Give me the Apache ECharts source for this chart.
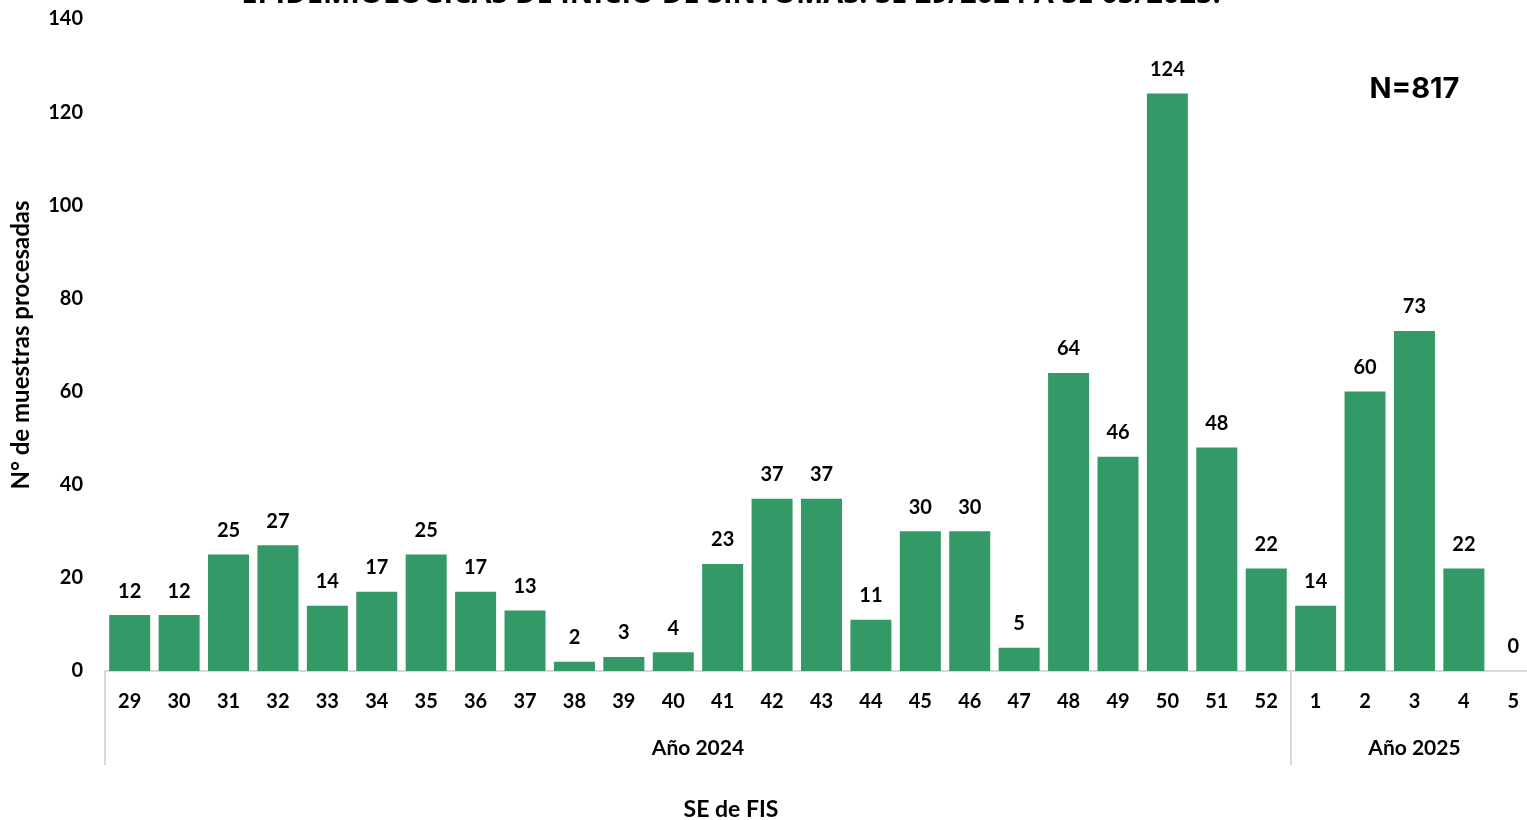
<!DOCTYPE html>
<html><head><meta charset="utf-8">
<script src="https://cdn.jsdelivr.net/npm/echarts@6/dist/echarts.min.js"></script>
<style>html,body{margin:0;padding:0;background:#fff}#c{width:1527px;height:820px}</style>
</head><body><div id="c"></div>
<script>
const weeks = ['29','30','31','32','33','34','35','36','37','38','39','40','41','42','43','44','45','46','47','48','49','50','51','52','1','2','3','4','5'];
const values = [12,12,25,27,14,17,25,17,13,2,3,4,23,37,37,11,30,30,5,64,46,124,48,22,14,60,73,22,0];
const yTicks = [0,20,40,60,80,100,120,140];
const groups = [{name:'Año 2024', from:0, to:23},{name:'Año 2025', from:24, to:28}];
const titleText = 'EPIDEMIOLÓGICAS DE INICIO DE SINTOMAS. SE 29/2024 A SE 05/2025.';
const totalText = 'N=817';
const xAxisTitle = 'SE de FIS';
const yAxisTitle = 'N° de muestras procesadas';

const FONT = 'Lato';
const chart = echarts.init(document.getElementById('c'));
const option = {
  animation:false,
  grid:{left:105,width:1433,top:19,bottom:149,containLabel:false,outerBoundsMode:'none'},
  xAxis:[{
    type:'category',data:weeks,
    axisLine:{show:true,lineStyle:{color:'#d9d9d9',width:2}},
    axisTick:{show:true,alignWithLabel:false,length:94,lineStyle:{color:'#d9d9d9',width:2},
      interval:function(i){return i===0||i===24;}},
    axisLabel:{interval:0,margin:21,fontFamily:FONT,fontWeight:'bold',fontSize:20,color:'#000'}
  }],
  yAxis:{type:'value',min:0,max:140,interval:20,
    axisLine:{show:false},axisTick:{show:false},splitLine:{show:false},
    axisLabel:{margin:22,fontFamily:FONT,fontWeight:'bold',fontSize:20,color:'#000',
      formatter:function(v){return yTicks.indexOf(v)>=0?String(v):'';}},
    name:yAxisTitle,nameLocation:'middle',nameGap:72,
    nameTextStyle:{fontFamily:FONT,fontWeight:'bold',fontSize:24,color:'#000'}
  },
  series:[{type:'bar',data:values,barCategoryGap:'17%',
    itemStyle:{color:'#339966'},
    label:{show:true,position:'top',distance:14,fontFamily:FONT,fontWeight:'bold',fontSize:20,color:'#000'}
  }]
};
chart.setOption(option);

function build(){
  const y0 = chart.convertToPixel({yAxisIndex:0},0);
  const half = (chart.convertToPixel({xAxisIndex:0},1)-chart.convertToPixel({xAxisIndex:0},0))/2;
  const els = groups.map(g=>{
    const x1 = chart.convertToPixel({xAxisIndex:0},g.from)-half;
    const x2 = chart.convertToPixel({xAxisIndex:0},g.to)+half;
    return {type:'text',x:(x1+x2)/2,y:y0+77,style:{text:g.name,align:'center',verticalAlign:'middle',
      fontFamily:FONT,fontWeight:'bold',fontSize:21,fill:'#000'}};
  });
  const xN = chart.convertToPixel({xAxisIndex:0},26);
  const yN = chart.convertToPixel({yAxisIndex:0},125);
  els.push({type:'text',x:xN,y:yN,style:{text:totalText,align:'center',verticalAlign:'middle',
    fontFamily:'Inter',fontWeight:'bold',fontSize:29,fill:'#000'}});
  els.push({type:'text',x:731,y:y0+139,style:{text:xAxisTitle,align:'center',verticalAlign:'middle',
    fontFamily:FONT,fontWeight:'bold',fontSize:23,fill:'#000'}});
  els.push({type:'text',x:731,y:9,style:{text:titleText,align:'center',verticalAlign:'bottom',
    fontFamily:'Open Sans',fontWeight:'bold',fontSize:29,fill:'#000'}});
  chart.setOption({graphic:{elements:els}});
}
build();
</script></body></html>
